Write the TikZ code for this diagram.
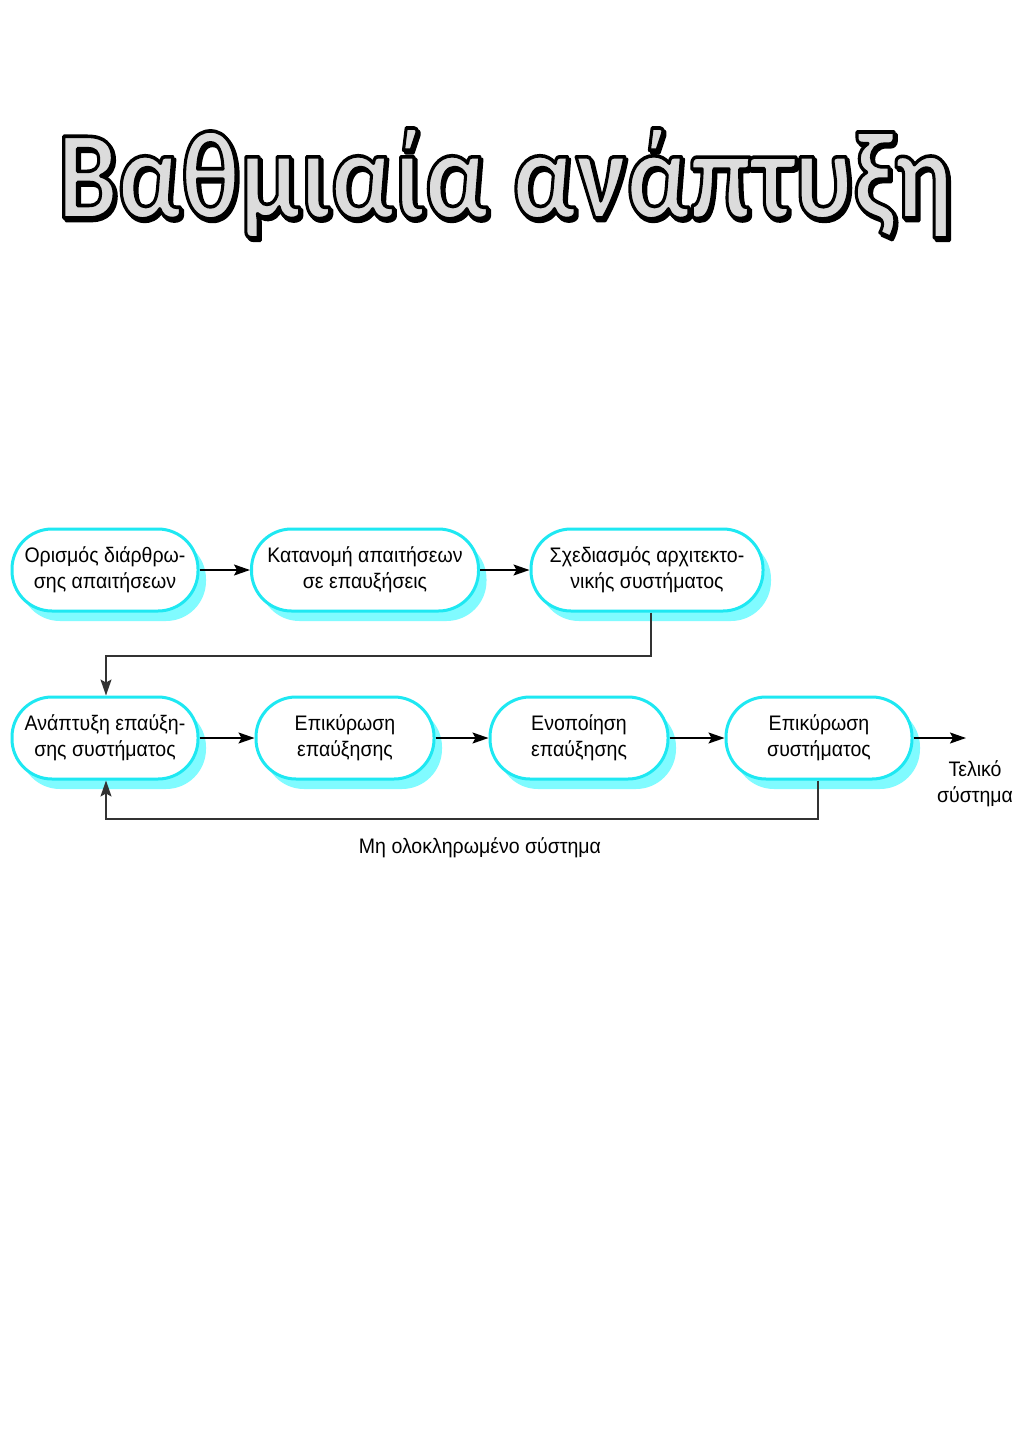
\documentclass[tikz,border=0pt]{standalone}
\usepackage{fontspec}
\setmainfont{Liberation Sans}[FakeStretch=0.93]
\newfontfamily\titlefont{Carlito}
\usetikzlibrary{arrows.meta,shadows}
\definecolor{boxcyan}{HTML}{1EE8F2}
\definecolor{shadowcyan}{HTML}{80FBFF}
\definecolor{titlegray}{HTML}{DCDCDC}
\definecolor{linegray}{HTML}{333333}
\newcommand{\outlinetext}[2]{{\color{#1}\special{pdf:literal direct 2 Tr 3.6 w 1 j 0 G}#2\special{pdf:literal direct 0 Tr 1 w}}}
\tikzset{
  stagebox/.style={draw=boxcyan, line width=3pt, fill=white, rounded corners=40pt,
    minimum height=82pt, inner sep=0pt, align=center,
    font=\fontsize{21}{26}\selectfont,
    drop shadow={shadow xshift=8pt, shadow yshift=-10pt, fill=shadowcyan, opacity=1}},
  flow/.style={line width=1.6pt, draw=black, -{Stealth[length=16pt,width=11pt,inset=3pt]}},
  loopline/.style={line width=1.6pt, draw=linegray, -{Stealth[length=16pt,width=11pt,inset=3pt]}},
  plain/.style={font=\fontsize{21}{26}\selectfont, align=center, inner sep=0pt}
}
\begin{document}
\begin{tikzpicture}[x=1pt,y=-1pt]
\useasboundingbox[fill=white] (0,0) rectangle (1024,1448);
% title
\node[anchor=base, inner sep=0pt, font=\titlefont\bfseries\fontsize{126}{130}\selectfont] (title) at (505,218)
  {\resizebox{895pt}{\height}{\rlap{\hspace{2.5pt}\raisebox{-2.5pt}{\outlinetext{black}{Βαθμιαία ανάπτυξη}}}\outlinetext{titlegray}{Βαθμιαία ανάπτυξη}}};
% row 1
\node[stagebox, minimum width=186pt] (b1) at (105,570) {Ορισμός διάρθρω-\\σης απαιτήσεων};
\node[stagebox, minimum width=227pt] (b2) at (365,570) {Κατανομή απαιτήσεων\\σε επαυξήσεις};
\node[stagebox, minimum width=232pt] (b3) at (647,570) {Σχεδιασμός αρχιτεκτο-\\νικής συστήματος};
% row 2
\node[stagebox, minimum width=186pt] (b4) at (105,738) {Ανάπτυξη επαύξη-\\σης συστήματος};
\node[stagebox, minimum width=178pt] (b5) at (345,738) {Επικύρωση\\επαύξησης};
\node[stagebox, minimum width=178pt] (b6) at (579,738) {Ενοποίηση\\επαύξησης};
\node[stagebox, minimum width=186pt] (b7) at (819,738) {Επικύρωση\\συστήματος};
\coordinate (endpt) at (966,738);
\node[plain] (final) at (975,784) {Τελικό\\σύστημα};
\node[plain] (incomplete) at (480,848) {Μη ολοκληρωμένο σύστημα};
% connectors
\draw[flow] (b1) -- (b2);
\draw[flow] (b2) -- (b3);
\draw[loopline] (b3.south -| 651,0) |- (106,656) -- (b4.north -| 106,0);
\draw[flow] (b4) -- (b5);
\draw[flow] (b5) -- (b6);
\draw[flow] (b6) -- (b7);
\draw[flow] (b7) -- (endpt);
\draw[loopline] (b7.south -| 818,0) |- (106,819) -- (b4.south -| 106,0);
\end{tikzpicture}
\end{document}
